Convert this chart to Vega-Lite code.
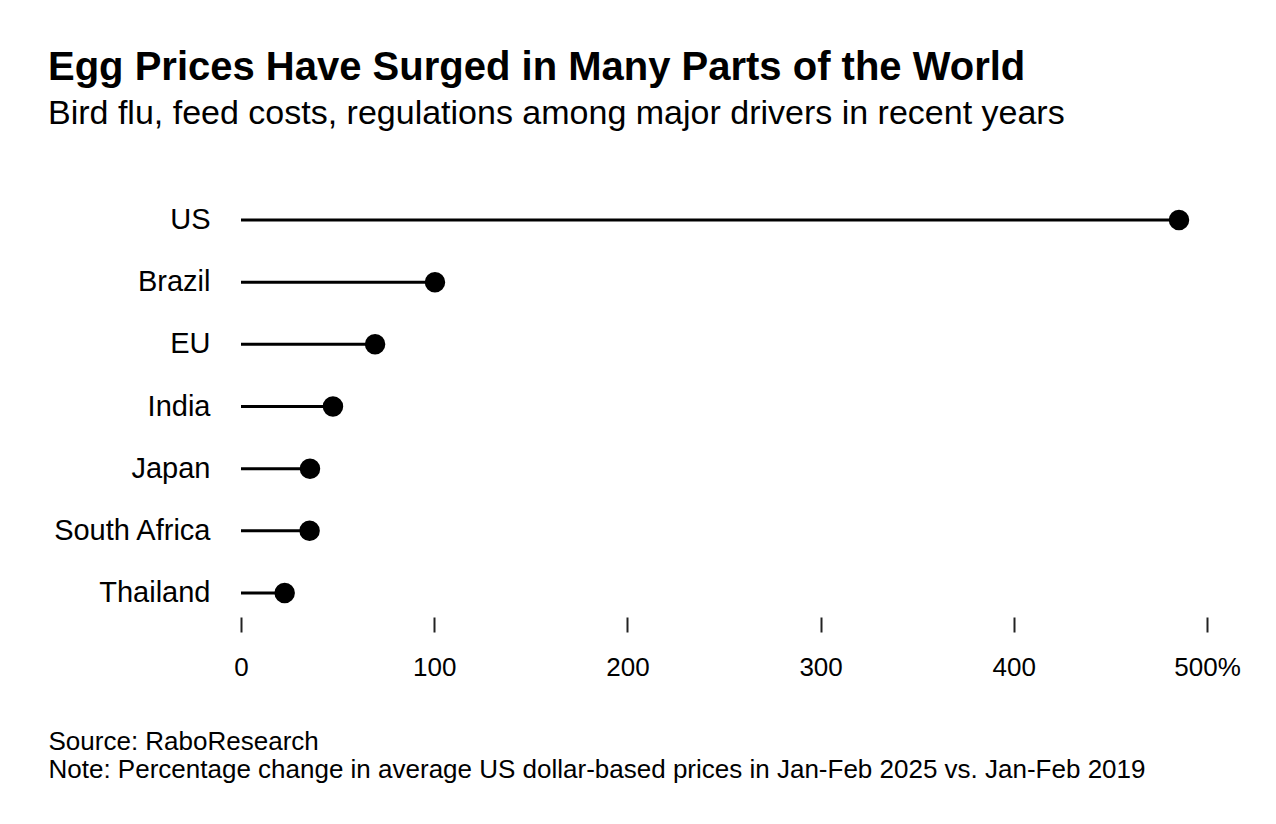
{
  "$schema": "https://vega.github.io/schema/vega-lite/v6.json",
  "autosize": {"type": "none"},
  "width": 966,
  "height": 435,
  "padding": {"left": 241, "top": 189, "right": 69, "bottom": 200},
  "background": "white",
  "config": {
    "font": "Liberation Sans",
    "view": {"stroke": null}
  },
  "title": {
    "text": "Egg Prices Have Surged in Many Parts of the World",
    "subtitle": "Bird flu, feed costs, regulations among major drivers in recent years",
    "anchor": "start",
    "frame": "group",
    "dx": -193,
    "offset": 58,
    "fontSize": 40,
    "fontWeight": "bold",
    "color": "black",
    "subtitleFontSize": 34,
    "subtitleColor": "black",
    "subtitlePadding": 9
  },
  "data": {
    "values": [
      {"country": "US", "change": 485.5},
      {"country": "Brazil", "change": 100.4},
      {"country": "EU", "change": 69.4},
      {"country": "India", "change": 47.6},
      {"country": "Japan", "change": 35.7},
      {"country": "South Africa", "change": 35.5},
      {"country": "Thailand", "change": 22.6}
    ]
  },
  "encoding": {
    "y": {
      "field": "country",
      "type": "nominal",
      "sort": null,
      "scale": {"paddingInner": 0, "paddingOuter": 0},
      "axis": {
        "title": null,
        "domain": false,
        "ticks": false,
        "labelFontSize": 29,
        "labelColor": "black",
        "labelPadding": 31
      }
    },
    "x": {
      "field": "change",
      "type": "quantitative",
      "scale": {"domain": [0, 500], "nice": false},
      "axis": {
        "values": [0, 100, 200, 300, 400, 500],
        "labelExpr": "datum.value == 500 ? '500%' : datum.label",
        "labelFlush": false,
        "grid": false,
        "domain": false,
        "offset": -7,
        "tickSize": 15,
        "tickWidth": 2,
        "tickColor": "#222",
        "labelFontSize": 26,
        "labelColor": "black",
        "labelPadding": 22,
        "title": ["Source: RaboResearch", "Note: Percentage change in average US dollar-based prices in Jan-Feb 2025 vs. Jan-Feb 2019"],
        "titleAnchor": "start",
        "titleAlign": "left",
        "titleBaseline": "top",
        "titleX": -193,
        "titleY": 111,
        "titleFontSize": 26,
        "titleFontWeight": "normal",
        "titleColor": "black",
        "titleLineHeight": 28
      }
    }
  },
  "layer": [
    {
      "mark": {"type": "rule", "strokeWidth": 3, "color": "black"},
      "encoding": {"x2": {"datum": 0}}
    },
    {
      "mark": {"type": "point", "filled": true, "size": 420, "color": "black", "opacity": 1}
    }
  ]
}
